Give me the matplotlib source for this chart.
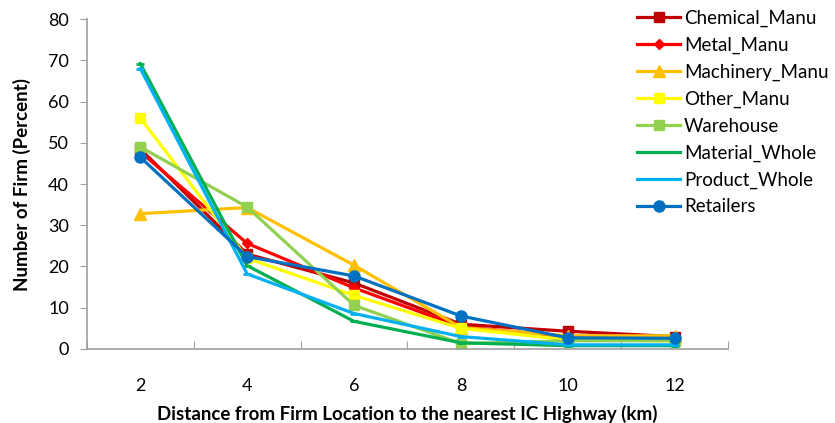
import matplotlib.pyplot as plt
from matplotlib.ticker import FixedLocator, NullFormatter

plt.rcParams['font.family'] = ['Lato', 'DejaVu Sans']

distances = ['2', '4', '6', '8', '10', '12']

chemical_manu = [48.5, 23.0, 16.0, 6.0, 4.3, 3.0]
metal_manu = [47.8, 25.6, 14.8, 5.4, 3.0, 2.6]
machinery_manu = [32.8, 34.3, 20.3, 5.2, 3.2, 3.2]
other_manu = [56.0, 22.0, 13.0, 5.0, 2.2, 2.0]
warehouse = [49.0, 34.4, 10.6, 1.3, 2.0, 2.0]
material_whole = [69.2, 20.2, 6.7, 1.5, 0.8, 0.8]
product_whole = [68.0, 18.2, 8.6, 3.0, 1.0, 1.0]
retailers = [46.5, 22.4, 17.7, 8.0, 2.7, 2.6]

series = [
    ('Chemical_Manu', chemical_manu, '#C00000', 's', 7),
    ('Metal_Manu', metal_manu, '#FF0000', 'D', 5),
    ('Machinery_Manu', machinery_manu, '#FFC000', '^', 8),
    ('Other_Manu', other_manu, '#FFFF00', 's', 7),
    ('Warehouse', warehouse, '#92D050', 's', 7),
    ('Material_Whole', material_whole, '#00B050', '_', 6),
    ('Product_Whole', product_whole, '#00B0F0', '_', 6),
    ('Retailers', retailers, '#0070C0', 'o', 8),
]

fig = plt.figure(figsize=(8.35, 4.23), dpi=100)
ax = fig.add_axes([0.104, 0.175, 0.768, 0.78])

x = list(range(len(distances)))
for name, vals, color, marker, ms in series:
    ax.plot(x, vals, color=color, linewidth=2.3, marker=marker, markersize=ms,
            markeredgecolor=color, markeredgewidth=2 if marker == '_' else 1,
            label=name)

ax.set_xlim(-0.5, len(distances) - 0.5)
ax.set_ylim(0, 80)
ax.set_yticks(range(0, 81, 10))

# category labels at centres, tick marks between categories
ax.xaxis.set_major_locator(FixedLocator([i - 0.5 for i in range(len(distances) + 1)]))
ax.xaxis.set_major_formatter(NullFormatter())
ax.xaxis.set_minor_locator(FixedLocator(x))
ax.set_xticklabels(distances, minor=True)
ax.tick_params(axis='x', which='major', length=6, color='#A0A0A0', direction='in')
ax.tick_params(axis='x', which='minor', length=0, pad=21, labelsize=13)
ax.tick_params(axis='y', length=5, color='#A0A0A0', labelsize=13, pad=8)

for side in ('top', 'right'):
    ax.spines[side].set_visible(False)
for side in ('left', 'bottom'):
    ax.spines[side].set_color('#A0A0A0')
    ax.spines[side].set_linewidth(1.2)

ax.set_ylabel('Number of Firm (Percent)', fontsize=13.5, fontweight='bold', labelpad=12)
ax.set_xlabel('Distance from Firm Location to the nearest IC Highway (km)',
              fontsize=13.5, fontweight='bold', labelpad=8)

ax.legend(loc='upper left', bbox_to_anchor=(0.754, 0.995), bbox_transform=fig.transFigure,
          frameon=False, fontsize=13.5, handlelength=2.3, labelspacing=0.52,
          handletextpad=0.2, borderaxespad=0)

fig.savefig('out.png', dpi=100)
